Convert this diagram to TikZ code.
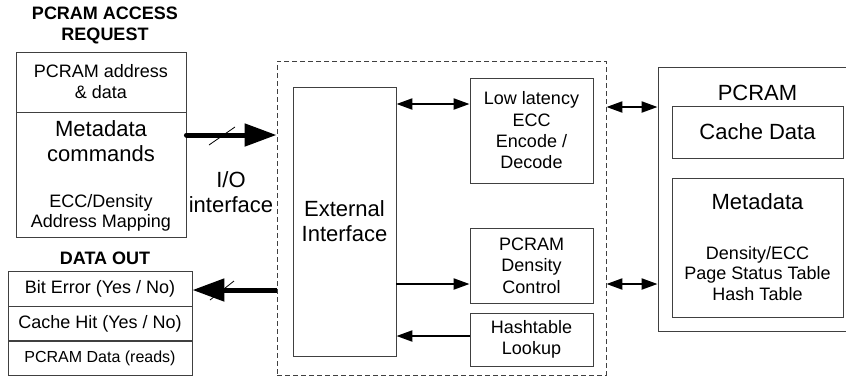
\documentclass[tikz,border=0pt]{standalone}
\usepackage{fontspec}
\setmainfont{Liberation Sans}
\usetikzlibrary{arrows.meta}
\definecolor{edgegray}{gray}{0.25}
\newcommand{\fsz}[2]{\fontsize{#1}{#2}\selectfont}
\tikzset{
  blk/.style={draw=edgegray, line width=0.9pt, inner sep=0pt, align=center},
  lbl/.style={inner sep=0pt, align=center},
  bigarrow/.style={line width=5pt, -{Triangle[length=32pt,width=22pt]}},
  thinarrow/.style={line width=2.2pt, -{Triangle[length=16pt,width=11pt]}},
  twoway/.style={line width=2.2pt, {Triangle[length=16pt,width=11pt]}-{Triangle[length=16pt,width=11pt]}},
  busmark/.style={line width=0.8pt}
}
\begin{document}
\begin{tikzpicture}[x=1pt, y=-1pt]
            \useasboundingbox (0,0) rectangle (846,378);%
            \clip (0,0) rectangle (846,378);%

            % Marking access request block
            \node [lbl, font=\bfseries\fsz{18}{21}] (reqhead) at (105,25) {PCRAM ACCESS\\REQUEST};%
            \node [blk, minimum width=170pt, minimum height=60pt, font=\fsz{18}{21}] (addr) at (101,82) {PCRAM address\\\& data};%
            \node [blk, minimum width=170pt, minimum height=125pt] (meta) at (101,174.5) {};%
            \node [lbl, font=\fsz{22}{25}] (metatxt) at (101,141) {Metadata\\commands};%
            \node [lbl, font=\fsz{18}{20}] (maptxt) at (101,213) {ECC/Density\\Address Mapping};%

            % Marking data out block
            \node [lbl, font=\bfseries\fsz{18}{21}] (outhead) at (105,258.5) {DATA OUT};%
            \node [blk, minimum width=184pt, minimum height=35pt, font=\fsz{18}{21}] (biterr) at (100,288.5) {Bit Error (Yes / No)};%
            \node [blk, minimum width=184pt, minimum height=35pt, font=\fsz{18}{21}] (cachehit) at (100,323.5) {Cache Hit (Yes / No)};%
            \node [blk, minimum width=184pt, minimum height=35pt, font=\fsz{16}{19}] (pcmdata) at (100,358) {PCRAM Data (reads)};%

            % Marking I/O label
            \node [lbl, font=\fsz{22}{25}] (iolbl) at (231,192) {I/O\\interface};%

            % Marking controller (dashed)
            \node [draw=edgegray, dash pattern=on 5pt off 3pt, line width=0.9pt, minimum width=329pt, minimum height=314pt] (ctrl) at (441.5,218) {};%
            \node [blk, minimum width=103pt, minimum height=269pt, font=\fsz{22}{25}] (ext) at (344.5,221.5) {External\\Interface};%
            \node [blk, minimum width=123pt, minimum height=105pt, font=\fsz{18}{21.3}] (ecc) at (531.5,130.5) {Low latency\\ECC\\Encode /\\Decode};%
            \node [blk, minimum width=123pt, minimum height=75pt, font=\fsz{18}{21.3}] (density) at (531.5,265.5) {PCRAM\\Density\\Control};%
            \node [blk, minimum width=123pt, minimum height=53pt, font=\fsz{18}{21.3}] (hashlk) at (531.5,339.5) {Hashtable\\Lookup};%

            % Marking PCRAM memory
            \node [blk, minimum width=212pt, minimum height=264pt] (mem) at (764,199) {};%
            \node [lbl, font=\fsz{22}{25}] (memlbl) at (757.5,92.5) {PCRAM};%
            \node [blk, minimum width=171pt, minimum height=52pt, font=\fsz{22}{25}] (cache) at (757.5,132) {Cache Data};%
            \node [blk, minimum width=171pt, minimum height=139pt] (mdbox) at (757.5,247.5) {};%
            \node [lbl, font=\fsz{22}{25}] (mdlbl) at (757.5,201.5) {Metadata};%
            \node [lbl, font=\fsz{18}{20.5}] (mdtxt) at (757.5,273.5) {Density/ECC\\Page Status Table\\Hash Table};%

            % Levels of the connectors
            \coordinate (inlvl) at (0,135);%
            \coordinate (outlvl) at (0,290);%
            \coordinate (ecclvl) at (0,104);%
            \coordinate (denlvl) at (0,284);%
            \coordinate (hashlvl) at (0,336);%
            \coordinate (memlvla) at (0,107);%
            \coordinate (memlvlb) at (0,284);%

            % Drawing I/O buses
            \draw [bigarrow, line cap=round] (meta.east |- inlvl) -- (ctrl.west |- inlvl);%
            \coordinate (busa) at (222,136);%
            \draw [busmark] ([shift={(-13,9)}]busa) -- ([shift={(13,-9)}]busa);%
            \draw [bigarrow] (ctrl.west |- outlvl) -- (biterr.east |- outlvl);%
            \coordinate (busb) at (222,290);%
            \draw [busmark] ([shift={(-12,10)}]busb) -- ([shift={(12,-9)}]busb);%

            % Drawing internal connectors
            \draw [twoway] (ext.east |- ecclvl) -- (ecc.west |- ecclvl);%
            \draw [thinarrow] (ext.east |- denlvl) -- (density.west |- denlvl);%
            \draw [thinarrow] (hashlk.west |- hashlvl) -- (ext.east |- hashlvl);%

            % Drawing memory connectors
            \draw [twoway] (ctrl.east |- memlvla) -- (mem.west |- memlvla);%
            \draw [twoway] (ctrl.east |- memlvlb) -- (mem.west |- memlvlb);%
\end{tikzpicture}
\end{document}
